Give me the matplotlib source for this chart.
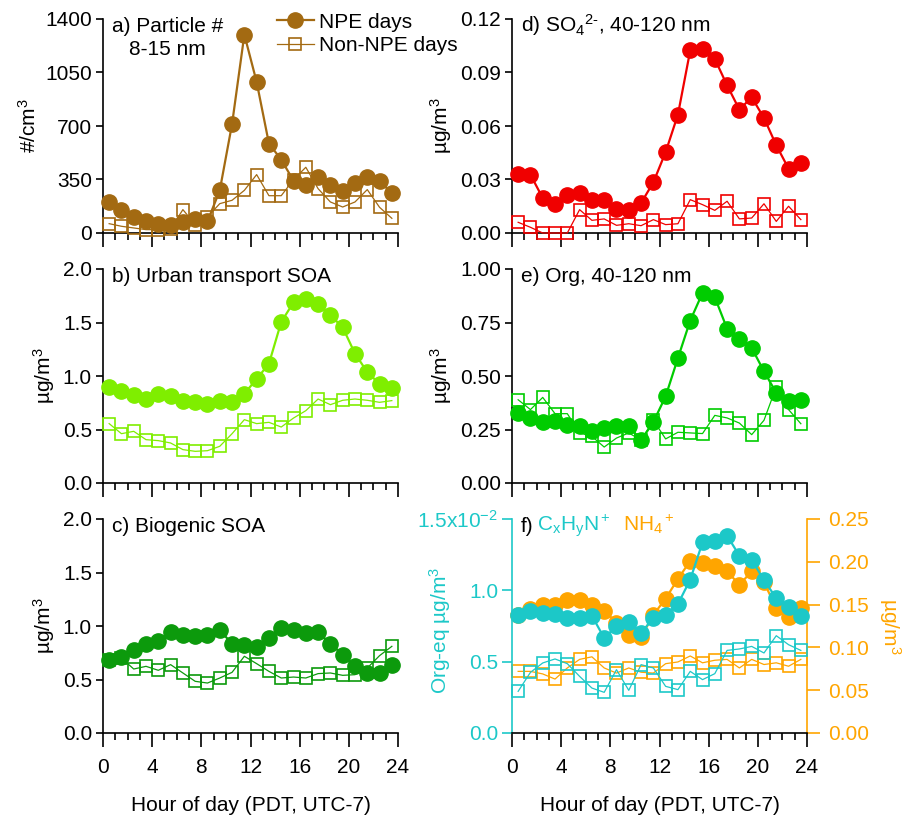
import numpy as np
import matplotlib
matplotlib.use('Agg')
import matplotlib.pyplot as plt
from matplotlib.ticker import MultipleLocator, FixedLocator

plt.rcParams['font.family'] = ['Liberation Sans', 'DejaVu Sans']
plt.rcParams['font.size'] = 15
plt.rcParams['mathtext.fontset'] = 'custom'
plt.rcParams['mathtext.rm'] = 'Liberation Sans'
plt.rcParams['mathtext.it'] = 'Liberation Sans'

# hora del dia (centro de cada hora)
horas = np.arange(24) + 0.5

# a) numero de particulas 8-15 nm
part_npe = [201, 148, 105, 76, 61, 55, 70, 89, 76, 279, 713, 1298, 988, 585, 480, 342,
            316, 364, 314, 277, 329, 366, 338, 262]
part_non = [61, 44, 33, 22, 22, 26, 153, 55, 105, 192, 214, 279, 382, 244, 244, 349,
            430, 290, 203, 170, 203, 284, 168, 96]

# b) SOA transporte urbano
urb_npe = [0.90, 0.857, 0.826, 0.785, 0.832, 0.81, 0.763, 0.754, 0.741, 0.763, 0.754, 0.835,
           0.972, 1.115, 1.505, 1.688, 1.72, 1.676, 1.567, 1.455, 1.209, 1.037, 0.925, 0.888]
urb_non = [0.555, 0.461, 0.483, 0.405, 0.396, 0.374, 0.312, 0.296, 0.302, 0.343, 0.461, 0.592,
           0.555, 0.567, 0.523, 0.607, 0.676, 0.785, 0.732, 0.773, 0.785, 0.773, 0.754, 0.77]

# c) SOA biogenico
bio_npe = [0.685, 0.71, 0.78, 0.835, 0.857, 0.94, 0.92, 0.903, 0.92, 0.96, 0.835, 0.826,
           0.804, 0.888, 0.981, 0.966, 0.935, 0.94, 0.835, 0.732, 0.623, 0.561, 0.561, 0.639]
bio_non = [0.685, 0.70, 0.598, 0.623, 0.586, 0.639, 0.561, 0.483, 0.467, 0.514, 0.567, 0.717,
           0.648, 0.576, 0.514, 0.523, 0.514, 0.555, 0.561, 0.539, 0.545, 0.607, 0.723, 0.81]

# d) sulfato 40-120 nm
so4_npe = [0.0333, 0.0327, 0.0196, 0.0163, 0.0215, 0.0224, 0.0183, 0.0187, 0.0135, 0.0127,
           0.0168, 0.0284, 0.0454, 0.0664, 0.1024, 0.1032, 0.0976, 0.0828, 0.0692, 0.0761,
           0.0645, 0.0492, 0.0361, 0.0393]
so4_non = [0.0060, 0.0032, 0.0, 0.0, 0.0, 0.0131, 0.0071, 0.0079, 0.0043, 0.0052, 0.0041,
           0.0075, 0.0047, 0.0052, 0.0187, 0.0159, 0.0127, 0.0178, 0.0079, 0.0084, 0.0164,
           0.0065, 0.0150, 0.0075]

# e) organicos 40-120 nm
org_npe = [0.327, 0.304, 0.283, 0.291, 0.273, 0.265, 0.241, 0.257, 0.265, 0.265, 0.199, 0.285,
           0.405, 0.584, 0.759, 0.888, 0.868, 0.721, 0.673, 0.631, 0.522, 0.421, 0.382, 0.386]
org_non = [0.389, 0.343, 0.40, 0.324, 0.324, 0.234, 0.218, 0.168, 0.21, 0.234, 0.20, 0.293,
           0.206, 0.237, 0.234, 0.231, 0.316, 0.304, 0.28, 0.226, 0.293, 0.449, 0.343, 0.277]

# f) CxHyN+ (x1e-2) y NH4+
cxhyn_npe = [0.825, 0.857, 0.841, 0.836, 0.806, 0.806, 0.822, 0.666, 0.748, 0.776, 0.701, 0.806,
             0.829, 0.904, 1.075, 1.336, 1.343, 1.383, 1.243, 1.215, 1.07, 0.946, 0.883, 0.818]
cxhyn_non = [0.292, 0.425, 0.491, 0.519, 0.486, 0.397, 0.315, 0.285, 0.444, 0.299, 0.479, 0.456,
             0.327, 0.304, 0.432, 0.374, 0.416, 0.579, 0.589, 0.607, 0.561, 0.682, 0.619, 0.579]
nh4_npe = [0.138, 0.145, 0.149, 0.150, 0.155, 0.155, 0.150, 0.143, 0.129, 0.115, 0.112, 0.138,
           0.157, 0.180, 0.201, 0.199, 0.195, 0.189, 0.173, 0.189, 0.176, 0.146, 0.136, 0.146]
nh4_non = [0.072, 0.072, 0.069, 0.063, 0.076, 0.086, 0.089, 0.076, 0.070, 0.076, 0.071, 0.070,
           0.081, 0.083, 0.090, 0.082, 0.085, 0.086, 0.076, 0.086, 0.080, 0.082, 0.078, 0.086]

marron = '#A36A12'
verde_claro = '#7FEE00'
verde_osc = '#0C9A0C'
rojo = '#F00000'
verde = '#00CC00'
cian = '#1CC8C8'
naranja = '#FFA500'

fig = plt.figure(figsize=(9.09, 8.19), dpi=100)
izq, der = 103 / 909, 512 / 909
ancho, alto = 295 / 909, 214 / 819
fondos = [1 - 233 / 819, 1 - 483 / 819, 1 - 733 / 819]


def dibujar(ax, npe, non, color, etiquetas=('NPE days', 'Non-NPE days')):
    ax.plot(horas, npe, '-o', color=color, lw=1.6, ms=11, clip_on=False,
            label=etiquetas[0], zorder=3)
    ax.plot(horas, non, '-s', color=color, lw=0.9, ms=9, mfc='none', mew=1.2,
            clip_on=False, label=etiquetas[1], zorder=4)


def ejes(ax, ymax, paso, fmt, abajo=False):
    ax.set_xlim(0, 24)
    ax.set_ylim(0, ymax)
    ax.xaxis.set_major_locator(MultipleLocator(4))
    ax.xaxis.set_minor_locator(MultipleLocator(1))
    ax.yaxis.set_major_locator(MultipleLocator(paso))
    ax.yaxis.set_major_formatter(fmt)
    for lado in ['top', 'right']:
        ax.spines[lado].set_visible(False)
    for lado in ['left', 'bottom']:
        ax.spines[lado].set_linewidth(1.2)
    ax.tick_params(axis='x', which='major', direction='out', length=10, width=1.2,
                   labelbottom=abajo, pad=8)
    ax.tick_params(axis='x', which='minor', direction='out', length=5, width=1.2)
    ax.tick_params(axis='y', direction='out', length=5, width=1.2, pad=3)
    if abajo:
        ax.set_xlabel('Hour of day (PDT, UTC-7)', labelpad=14)


# panel a
ax_a = fig.add_axes([izq, fondos[0], ancho, alto])
dibujar(ax_a, part_npe, part_non, marron)
ejes(ax_a, 1400, 350, '{x:.0f}')
ax_a.set_ylabel('#/cm$^3$')
ax_a.text(0.03, 1.01, 'a) Particle #\n8-15 nm', transform=ax_a.transAxes, va='top',
          ha='left', multialignment='center', linespacing=1.25)
ax_a.legend(loc='upper left', bbox_to_anchor=(0.59, 1.03), frameon=False,
            handlelength=1.75, handletextpad=0.25, labelspacing=0.22, borderpad=0,
            borderaxespad=0)

# panel b
ax_b = fig.add_axes([izq, fondos[1], ancho, alto])
dibujar(ax_b, urb_npe, urb_non, verde_claro)
ejes(ax_b, 2.0, 0.5, '{x:.1f}')
ax_b.set_ylabel('µg/m$^3$')
ax_b.text(0.03, 1.01, 'b) Urban transport SOA', transform=ax_b.transAxes, va='top')

# panel c
ax_c = fig.add_axes([izq, fondos[2], ancho, alto])
dibujar(ax_c, bio_npe, bio_non, verde_osc)
ejes(ax_c, 2.0, 0.5, '{x:.1f}', abajo=True)
ax_c.set_ylabel('µg/m$^3$')
ax_c.text(0.03, 1.01, 'c) Biogenic SOA', transform=ax_c.transAxes, va='top')

# panel d
ax_d = fig.add_axes([der, fondos[0], ancho, alto])
dibujar(ax_d, so4_npe, so4_non, rojo)
ejes(ax_d, 0.12, 0.03, '{x:.2f}')
ax_d.set_ylabel('µg/m$^3$')
ax_d.text(0.03, 1.03, 'd) SO$_4$$^{2\u2010}$, 40-120 nm', transform=ax_d.transAxes, va='top')

# panel e
ax_e = fig.add_axes([der, fondos[1], ancho, alto])
dibujar(ax_e, org_npe, org_non, verde)
ejes(ax_e, 1.0, 0.25, '{x:.2f}')
ax_e.set_ylabel('µg/m$^3$')
ax_e.text(0.03, 1.01, 'e) Org, 40-120 nm', transform=ax_e.transAxes, va='top')

# panel f: dos ejes y
ax_f = fig.add_axes([der, fondos[2], ancho, alto])
ax_f2 = ax_f.twinx()
ax_f.set_zorder(ax_f2.get_zorder() + 1)
ax_f.patch.set_visible(False)

dibujar(ax_f, cxhyn_npe, cxhyn_non, cian)
ejes(ax_f, 1.5, 0.5, '{x:.1f}', abajo=True)
ax_f.yaxis.set_major_locator(FixedLocator([0, 0.5, 1.0, 1.5]))
ax_f.set_yticklabels(['0.0', '0.5', '1.0', '1.5x10$^{-2}$'])
ax_f.spines['left'].set_color(cian)
ax_f.tick_params(axis='y', colors=cian, length=7)
ax_f.set_ylabel('Org-eq µg/m$^3$', color=cian)
ax_f.yaxis.set_label_coords(-0.20, 0.48)

dibujar(ax_f2, nh4_npe, nh4_non, naranja)
ax_f2.set_xlim(0, 24)
ax_f2.set_ylim(0, 0.25)
ax_f2.yaxis.set_major_locator(MultipleLocator(0.05))
ax_f2.yaxis.set_major_formatter('{x:.2f}')
for lado in ['top', 'left', 'bottom']:
    ax_f2.spines[lado].set_visible(False)
ax_f2.spines['right'].set_color(naranja)
ax_f2.spines['right'].set_linewidth(1.2)
ax_f2.tick_params(axis='y', colors=naranja, length=9.5, width=1.2, direction='out', pad=6)
ax_f2.set_ylabel('µg/m$^3$', color=naranja, rotation=270, labelpad=24)

ax_f.text(0.03, 1.01, 'f)', transform=ax_f.transAxes, va='top')
ax_f.text(0.085, 1.03, 'C$_x$H$_y$N$^+$', transform=ax_f.transAxes, va='top', color=cian)
ax_f.text(0.375, 1.03, 'NH$_4$$^+$', transform=ax_f.transAxes, va='top', color=naranja)

fig.savefig('out.png', dpi=100)
